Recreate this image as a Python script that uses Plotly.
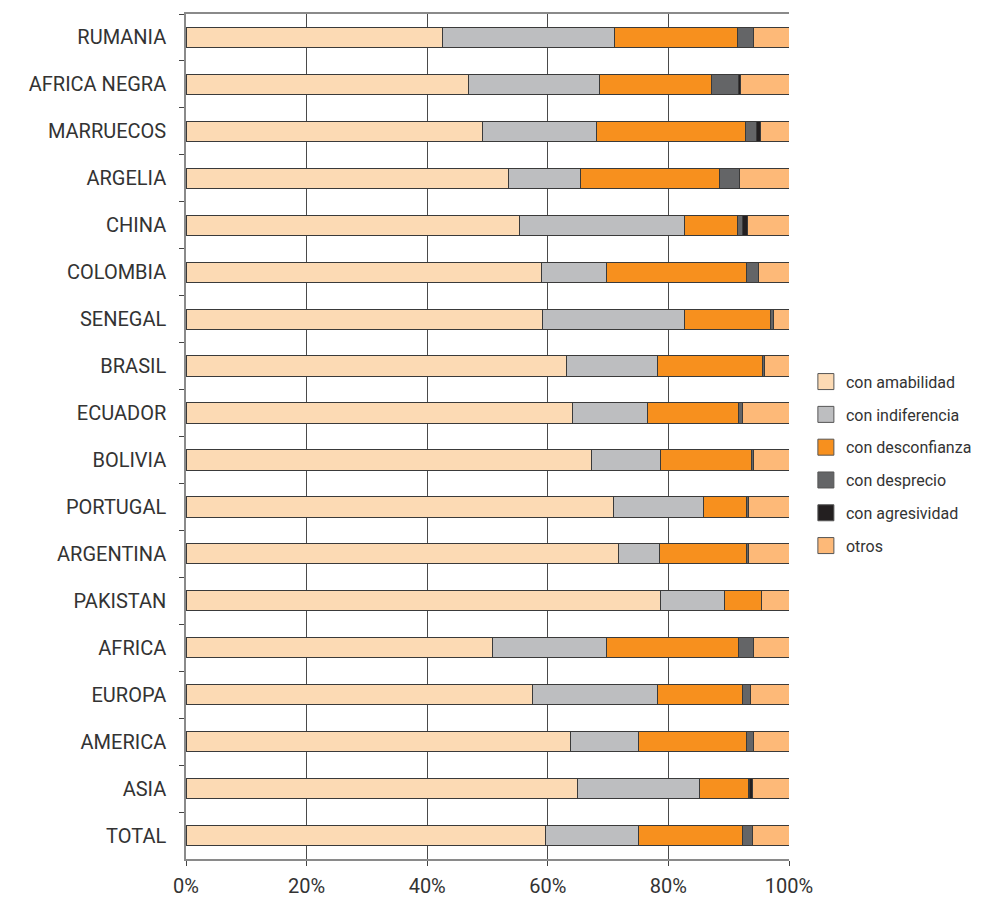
import plotly.graph_objects as go

categories = ["RUMANIA", "AFRICA NEGRA", "MARRUECOS", "ARGELIA", "CHINA", "COLOMBIA",
              "SENEGAL", "BRASIL", "ECUADOR", "BOLIVIA", "PORTUGAL", "ARGENTINA",
              "PAKISTAN", "AFRICA", "EUROPA", "AMERICA", "ASIA", "TOTAL"]

amabilidad   = [42.5, 46.9, 49.1, 53.5, 55.3, 58.9, 59.2, 63.1, 64.1, 67.2, 70.9, 71.7, 78.7, 50.9, 57.4, 63.7, 65.0, 59.7]
indiferencia = [28.6, 21.6, 18.9, 12.0, 27.3, 10.9, 23.4, 15.1, 12.4, 11.5, 14.9, 6.9, 10.6, 18.9, 20.8, 11.4, 20.2, 15.4]
desconfianza = [20.4, 18.6, 24.8, 22.9, 8.9, 23.1, 14.3, 17.4, 15.1, 15.1, 7.1, 14.3, 6.2, 21.8, 14.1, 17.8, 8.0, 17.2]
desprecio    = [2.6, 4.6, 1.8, 3.4, 0.8, 2.0, 0.5, 0.3, 0.7, 0.3, 0.3, 0.3, 0.0, 2.5, 1.3, 1.2, 0.2, 1.6]
agresividad  = [0.0, 0.2, 0.7, 0.0, 0.8, 0.0, 0.1, 0.0, 0.0, 0.0, 0.0, 0.0, 0.0, 0.0, 0.0, 0.0, 0.5, 0.0]
otros        = [5.9, 8.1, 4.7, 8.2, 6.9, 5.1, 2.5, 4.1, 7.7, 5.9, 6.8, 6.8, 4.5, 5.9, 6.4, 5.9, 6.1, 6.1]

series_names = ["con amabilidad", "con indiferencia", "con desconfianza",
                "con desprecio", "con agresividad", "otros"]
series_values = [amabilidad, indiferencia, desconfianza, desprecio, agresividad, otros]
colors = ["#FCDAB4", "#BDBEC0", "#F7901E", "#646567", "#231F20", "#FDB978"]

x_tickvals = [0, 20, 40, 60, 80, 100]
x_ticktext = ["0%", "20%", "40%", "60%", "80%", "100%"]

FONT = "Roboto, Liberation Sans, sans-serif"
TEXT = "#333333"

fig = go.Figure()
for name, vals, col in zip(series_names, series_values, colors):
    fig.add_trace(go.Bar(
        y=categories, x=vals, name=name, orientation="h",
        marker=dict(color=col, line=dict(color="#3a3a3a", width=1)),
        showlegend=False, legendgroup=name,
    ))
# legend entries with larger square symbols
for name, col in zip(series_names, colors):
    fig.add_trace(go.Scatter(
        x=[None], y=[None], mode="markers", name=name, legendgroup=name,
        marker=dict(symbol="square", size=16, color=col,
                    line=dict(color="#555555", width=1)),
    ))

fig.update_layout(
    width=983, height=897,
    margin=dict(l=186, r=194, t=14, b=38, autoexpand=False),
    barmode="stack",
    bargap=0.57,
    plot_bgcolor="white", paper_bgcolor="white",
    font=dict(family=FONT, size=18, color=TEXT),
    legend=dict(
        x=1.028, xanchor="left", y=0.585, yanchor="top",
        font=dict(family=FONT, size=16, color=TEXT),
        tracegroupgap=9, bgcolor="rgba(0,0,0,0)",
    ),
    xaxis=dict(
        range=[0, 100], tickmode="array", tickvals=x_tickvals, ticktext=x_ticktext,
        showgrid=True, gridcolor="#4a4a4a", gridwidth=1,
        zeroline=False, showline=True, linecolor="#8a8a8a", linewidth=1.5,
        mirror=True, ticks="outside", ticklen=5, tickcolor="#444444",
        ticklabelstandoff=3,
        tickfont=dict(family=FONT, size=20, color=TEXT),
    ),
    yaxis=dict(
        categoryorder="array", categoryarray=categories, autorange="reversed",
        showline=True, linecolor="#8a8a8a", linewidth=1.5,
        ticks="outside", ticklen=5, tickcolor="#444444", tickson="boundaries",
        showgrid=False, ticklabelstandoff=14,
        tickfont=dict(family=FONT, size=20, color=TEXT),
    ),
)

fig.write_html("out.html")
